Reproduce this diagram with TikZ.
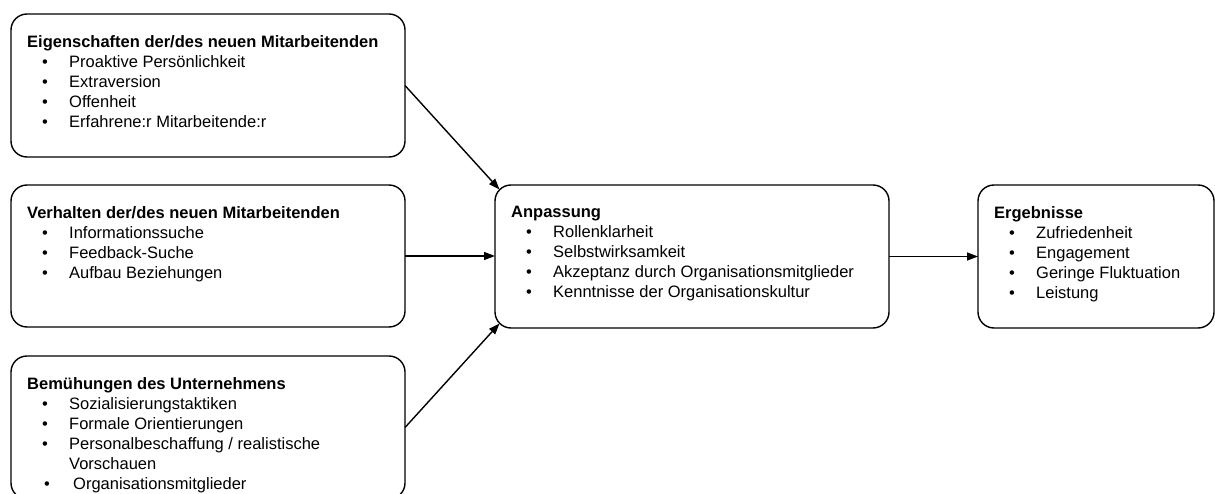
\documentclass[tikz,border=0pt]{standalone}
\usepackage{fontspec}
\setmainfont{Liberation Sans}
\usetikzlibrary{arrows.meta,calc}
\newcommand{\punkt}[1]{\\\hspace*{15pt}\makebox[27pt][l]{\textbullet}#1}
\begin{document}
\begin{tikzpicture}[x=1pt,y=-1pt,
  box/.style={draw, line width=1.4pt, rounded corners=16pt, anchor=north west, inner sep=0pt, outer sep=0pt},
  txt/.style={anchor=north west, inner sep=0pt, align=left, font=\fontsize{16.5}{20}\selectfont},
  pfeil/.style={line width=1.4pt, -{Triangle[length=11pt,width=8pt]}}]
\useasboundingbox (0,0) rectangle (1215,494);
% Kaesten
\node[box, minimum width=394pt, minimum height=143pt] (eig) at (11,14) {};
\node[box, minimum width=394pt, minimum height=142pt] (verh) at (11,185) {};
\node[box, minimum width=394pt, minimum height=143pt] (bem) at (11,356) {};
\node[box, minimum width=394pt, minimum height=143pt] (anp) at (495,185) {};
\node[box, minimum width=236pt, minimum height=143pt] (erg) at (978,185) {};
% Texte
\node[txt] (eigtext) at (27,35) {\textbf{Eigenschaften der/des neuen Mitarbeitenden}
  \punkt{Proaktive Persönlichkeit}\punkt{Extraversion}\punkt{Offenheit}\punkt{Erfahrene:r Mitarbeitende:r}};
\node[txt] (verhtext) at (27,206) {\textbf{Verhalten der/des neuen Mitarbeitenden}
  \punkt{Informationssuche}\punkt{Feedback-Suche}\punkt{Aufbau Beziehungen}};
\node[txt] (bemtext) at (27,377) {\textbf{Bemühungen des Unternehmens}
  \punkt{Sozialisierungstaktiken}\punkt{Formale Orientierungen}\punkt{Personalbeschaffung / realistische}\\
  \hspace*{42pt}Vorschauen\\
  \hspace*{17pt}\makebox[29pt][l]{\textbullet}Organisationsmitglieder};
\node[txt] (anptext) at (511,206) {\textbf{Anpassung}
  \punkt{Rollenklarheit}\punkt{Selbstwirksamkeit}\punkt{Akzeptanz durch Organisationsmitglieder}\punkt{Kenntnisse der Organisationskultur}};
\node[txt] (ergtext) at (994,206) {\textbf{Ergebnisse}
  \punkt{Zufriedenheit}\punkt{Engagement}\punkt{Geringe Fluktuation}\punkt{Leistung}};
% Pfeile
\draw[pfeil] (eig.east) -- ($(anp.north west)+(4.5,4.5)$);
\draw[pfeil] (verh.east) -- (verh.east -| anp.west);
\draw[pfeil] (bem.east) -- ($(anp.south west)+(4.5,-4.5)$);
\draw[pfeil] (anp.east) -- (erg.west);
\end{tikzpicture}
\end{document}
